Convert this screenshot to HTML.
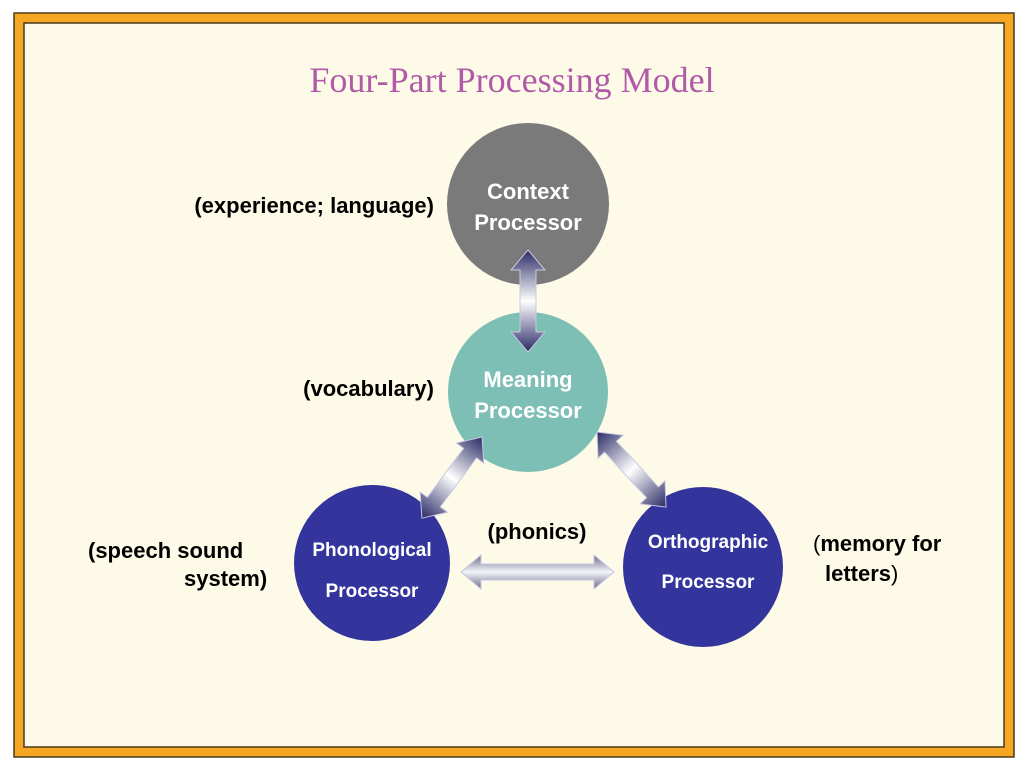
<!DOCTYPE html>
<html><head><meta charset="utf-8"><style>
html,body{margin:0;padding:0;background:#fff;}
svg{display:block;}
</style></head><body>
<svg width="1024" height="768" viewBox="0 0 1024 768" xmlns="http://www.w3.org/2000/svg">
<defs>
<linearGradient id="gl" x1="0" y1="0" x2="1" y2="0">
<stop offset="0" stop-color="#2a2a66"/><stop offset="0.5" stop-color="#ffffff"/><stop offset="1" stop-color="#2a2a66"/>
</linearGradient>
<linearGradient id="gh" x1="0" y1="0" x2="0" y2="1">
<stop offset="0" stop-color="#6a6a8c"/><stop offset="0.5" stop-color="#f4f4fa"/><stop offset="1" stop-color="#6a6a8c"/>
</linearGradient>
</defs>
<rect x="0" y="0" width="1024" height="768" fill="#ffffff"/>
<rect x="19" y="18" width="990" height="734" fill="#fdfbe8" stroke="#f5a623" stroke-width="10"/>
<rect x="14" y="13" width="1000" height="744" fill="none" stroke="#4a3a1a" stroke-width="1.5"/>
<rect x="24" y="23" width="980" height="724" fill="none" stroke="#4a3a1a" stroke-width="1.5"/>
<text x="512" y="92" text-anchor="middle" font-family="Liberation Serif, serif" font-size="36" fill="#b05aa8">Four-Part Processing Model</text>

<circle cx="528" cy="204" r="81" fill="#7a7a7a"/>
<circle cx="528" cy="392" r="80" fill="#7dbfb5"/>
<circle cx="372" cy="563" r="78" fill="#33349c"/>
<circle cx="703" cy="567" r="80" fill="#33349c"/>

<g font-family="Liberation Sans, Arial, sans-serif" font-weight="bold" fill="#fff" text-anchor="middle">
<text x="528" y="199" font-size="22">Context</text>
<text x="528" y="230" font-size="22">Processor</text>
<text x="528" y="387" font-size="22">Meaning</text>
<text x="528" y="418" font-size="22">Processor</text>
<text x="372" y="556" font-size="19">Phonological</text>
<text x="372" y="597" font-size="19">Processor</text>
<text x="708" y="548" font-size="19">Orthographic</text>
<text x="708" y="588" font-size="19">Processor</text>
</g>

<g stroke="#c8c8e0" stroke-width="1">
<polygon transform="translate(528,250) rotate(90)" fill="url(#gl)" points="0,0 20,-17 20,-8 82,-8 82,-17 102,0 82,17 82,8 20,8 20,17"/>
<polygon transform="translate(482,437) rotate(126.5)" fill="url(#gl)" points="0,0 20,-17 20,-8 81,-8 81,-17 101,0 81,17 81,8 20,8 20,17"/>
<polygon transform="translate(597,432) rotate(47.4)" fill="url(#gl)" points="0,0 20,-17 20,-8 82,-8 82,-17 102,0 82,17 82,8 20,8 20,17"/>
<polygon transform="translate(461,572)" fill="url(#gh)" points="0,0 20,-17 20,-8 133,-8 133,-17 153,0 133,17 133,8 20,8 20,17"/>
</g>

<g font-family="Liberation Sans, Arial, sans-serif" font-weight="bold" fill="#000" font-size="22">
<text x="434" y="213" text-anchor="end">(experience; language)</text>
<text x="434" y="396" text-anchor="end">(vocabulary)</text>
<text x="537" y="539" text-anchor="middle">(phonics)</text>
<text x="88" y="558">(speech sound</text>
<text x="184" y="586">system)</text>
<text x="813" y="551"><tspan font-weight="normal">(</tspan>memory for</text>
<text x="825" y="581">letters<tspan font-weight="normal">)</tspan></text>
</g>
</svg>
</body></html>
